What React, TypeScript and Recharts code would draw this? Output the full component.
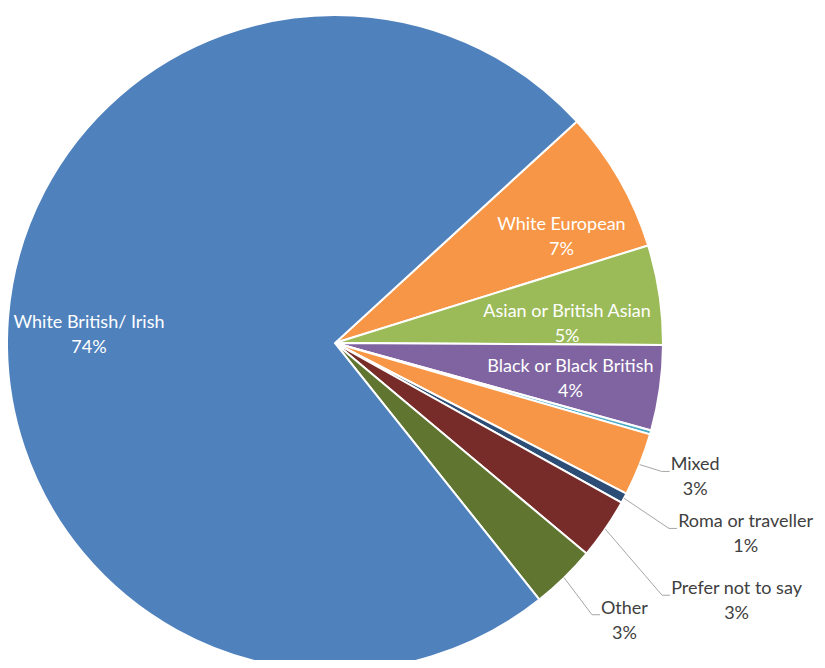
import { PieChart, Pie, Cell } from 'recharts';

const categories = [
  'White European',
  'Asian or British Asian',
  'Black or Black British',
  'Not recorded',
  'Mixed',
  'Roma or traveller',
  'Prefer not to say',
  'Other',
  'White British/ Irish',
];

const shares = [7.0, 4.9, 4.2, 0.2, 3.1, 0.5, 3.0, 3.2, 73.9];

const sliceColors = [
  '#F79646',
  '#9BBB59',
  '#8064A2',
  '#4BACC6',
  '#F79646',
  '#2C4D75',
  '#772C2A',
  '#5F7530',
  '#4F81BD',
];

const data = categories.map((name, i) => ({ name, value: shares[i] }));

// outside labels: [distance past the rim, angle tweak] for the leader elbow
const outsideLayout: Record<string, [number, number]> = {
  Mixed: [23, 0.3],
  'Roma or traveller': [54, -0.8],
  'Prefer not to say': [85, -3.1],
  Other: [46, -0.9],
};

// inside labels: small nudges so they land where excel put them
const insideNudge: Record<string, [number, number]> = {
  'White European': [16, 13],
  'Asian or British Asian': [-8, 15],
  'Black or Black British': [-5, 1],
  'White British/ Irish': [-4, 9],
};

const RAD = Math.PI / 180;
const FONT = 'Lato, "Open Sans", sans-serif';
const SIZE = 18;

let ctx: CanvasRenderingContext2D | null = null;
const textWidth = (s: string) => {
  if (!ctx) ctx = document.createElement('canvas').getContext('2d');
  if (!ctx) return s.length * 8.3;
  ctx.font = `${SIZE}px ${FONT}`;
  return ctx.measureText(s).width;
};

const renderLabel = (props: any) => {
  const { cx, cy, midAngle, outerRadius, name, value } = props;
  if (value < 0.3) return null;
  const pct = `${Math.round(value)}%`;

  if (!outsideLayout[name]) {
    const r = outerRadius * 0.74;
    const [nx, ny] = insideNudge[name] || [0, 0];
    const x = cx + r * Math.cos(-midAngle * RAD) + nx;
    const y = cy + r * Math.sin(-midAngle * RAD) + ny;
    return (
      <g>
        <text x={x} y={y - 12} fill="#fff" fontSize={SIZE} fontFamily={FONT} textAnchor="middle" dominantBaseline="central">
          {name}
        </text>
        <text x={x} y={y + 13} fill="#fff" fontSize={SIZE} fontFamily={FONT} textAnchor="middle" dominantBaseline="central">
          {pct}
        </text>
      </g>
    );
  }

  const [off, tweak] = outsideLayout[name];
  const sx = cx + outerRadius * Math.cos(-midAngle * RAD);
  const sy = cy + outerRadius * Math.sin(-midAngle * RAD);
  const ea = -(midAngle + tweak) * RAD;
  const ex = cx + (outerRadius + off) * Math.cos(ea);
  const ey = cy + (outerRadius + off) * Math.sin(ea);
  const hx = ex + 8;
  const tx = hx + 1 + textWidth(name) / 2;
  return (
    <g>
      <polyline points={`${sx},${sy} ${ex},${ey} ${hx},${ey}`} fill="none" stroke="#A6A6A6" strokeWidth={1} />
      <text x={tx} y={ey - 8} fill="#404040" fontSize={SIZE} fontFamily={FONT} textAnchor="middle" dominantBaseline="central">
        {name}
      </text>
      <text x={tx} y={ey + 17} fill="#404040" fontSize={SIZE} fontFamily={FONT} textAnchor="middle" dominantBaseline="central">
        {pct}
      </text>
    </g>
  );
};

export default function App() {
  return (
    <div style={{ margin: -8, width: 825, height: 668, overflow: 'hidden', background: '#fff' }}>
      <PieChart width={825} height={668} margin={{ top: 0, right: 0, bottom: 0, left: 0 }}>
        <Pie
          data={data}
          dataKey="value"
          nameKey="name"
          cx={335}
          cy={343}
          outerRadius={328}
          startAngle={42.5}
          endAngle={-317.5}
          stroke="#fff"
          strokeWidth={2}
          label={renderLabel}
          labelLine={false}
          isAnimationActive={false}
        >
          {data.map((d, i) => (
            <Cell key={d.name} fill={sliceColors[i]} />
          ))}
        </Pie>
      </PieChart>
    </div>
  );
}
